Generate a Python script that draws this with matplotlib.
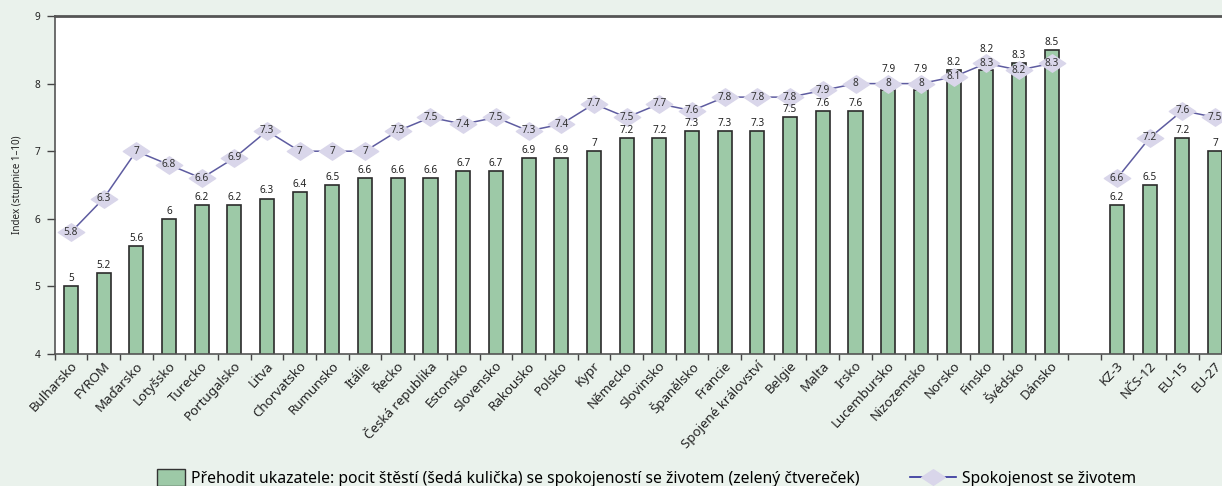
import numpy as np
import matplotlib.pyplot as plt
import matplotlib.transforms as mtransforms
from matplotlib.path import Path
from matplotlib.lines import Line2D
from matplotlib.patches import Patch, Rectangle
from matplotlib.legend_handler import HandlerPatch

plt.rcParams['font.family'] = ['Noto Sans', 'DejaVu Sans']

# Data: countries (sorted by the happiness/satisfaction bar) and country groups
zeme = ["Bulharsko", "FYROM", "Maďarsko", "Lotyšsko", "Turecko", "Portugalsko",
        "Litva", "Chorvatsko", "Rumunsko", "Itálie", "Řecko", "Česká republika",
        "Estonsko", "Slovensko", "Rakousko", "Polsko", "Kypr", "Německo",
        "Slovinsko", "Španělsko", "Francie", "Spojené království", "Belgie",
        "Malta", "Irsko", "Lucembursko", "Nizozemsko", "Norsko", "Finsko",
        "Švédsko", "Dánsko"]
skupiny = ["KZ-3", "NČS-12", "EU-15", "EU-27"]

stesti_zeme = [5, 5.2, 5.6, 6, 6.2, 6.2, 6.3, 6.4, 6.5, 6.6, 6.6, 6.6, 6.7, 6.7,
               6.9, 6.9, 7, 7.2, 7.2, 7.3, 7.3, 7.3, 7.5, 7.6, 7.6, 7.9, 7.9,
               8.2, 8.2, 8.3, 8.5]
stesti_skupiny = [6.2, 6.5, 7.2, 7]

spokojenost_zeme = [5.8, 6.3, 7, 6.8, 6.6, 6.9, 7.3, 7, 7, 7, 7.3, 7.5, 7.4, 7.5,
                    7.3, 7.4, 7.7, 7.5, 7.7, 7.6, 7.8, 7.8, 7.8, 7.9, 8, 8, 8,
                    8.1, 8.3, 8.2, 8.3]
spokojenost_skupiny = [6.6, 7.2, 7.6, 7.5]

# barvy
BG = "#eaf2ec"
ZELENA = "#9dc9a7"
KOSOCTVEREC = "#d9d6ea"
CARA = "#5e5ca0"

# pozice: zeme 0..30, mezera, skupiny 32..35
x_zeme = np.arange(len(zeme))
x_skup = np.arange(len(skupiny)) + len(zeme) + 1
n_slotu = len(zeme) + 1 + len(skupiny)

fig = plt.figure(figsize=(12.22, 4.86), dpi=100)
fig.patch.set_facecolor(BG)
W, H = 1222, 486
ax = fig.add_axes([54.5 / W, 132 / H, 1177 / W, 338 / H])
ax.set_facecolor("white")

# zplostely kosoctverec jako znacka
diamant = Path([(-1, 0), (0, 0.66), (1, 0), (0, -0.66), (-1, 0)],
               [Path.MOVETO, Path.LINETO, Path.LINETO, Path.LINETO, Path.CLOSEPOLY])

radky = [(x_zeme, stesti_zeme, spokojenost_zeme),
         (x_skup, stesti_skupiny, spokojenost_skupiny)]

for xs, sloupce, cara in radky:
    ax.bar(xs, sloupce, width=0.43, bottom=0, color=ZELENA, edgecolor="#2b2b2b",
           linewidth=1.2, zorder=2)
    for x, v, c in zip(xs, sloupce, cara):
        # kdyz kosoctverec lezi tesne nad sloupcem, popisek jde nad nej
        if 0 < c - v <= 0.15:
            ax.annotate(f"{v:g}", (x, c), xytext=(0, 6), textcoords="offset points",
                        ha="center", va="bottom", fontsize=7.2, color="#222", zorder=5)
        else:
            ax.annotate(f"{v:g}", (x, v), xytext=(0, 1.5), textcoords="offset points",
                        ha="center", va="bottom", fontsize=7.2, color="#222", zorder=5)

    ax.plot(xs, cara, color=CARA, lw=1.1, zorder=3,
            marker=diamant, markersize=19, markerfacecolor=KOSOCTVEREC,
            markeredgecolor=KOSOCTVEREC)
    for x, c in zip(xs, cara):
        ax.text(x, c, f"{c:g}", ha="center", va="center", fontsize=7.3,
                color="#333", zorder=6)

ax.set_xlim(-0.5, n_slotu - 0.5)
ax.set_ylim(4, 9)
ax.set_yticks(range(4, 10))
ax.tick_params(axis="y", labelsize=7.3, length=6, width=1, color="#444",
               labelcolor="#222", pad=4)

popisky = zeme + [""] + skupiny
ax.set_xticks(np.arange(n_slotu))
ax.set_xticklabels(popisky, rotation=47, ha="right", va="center",
                   rotation_mode="anchor", fontsize=9.6, color="#222")
ax.tick_params(axis="x", which="major", length=0, pad=7)
# popisky posunout kousek doprava, aby koncily u stredu sloupce
posun = mtransforms.ScaledTranslation(4 / 100, 0, fig.dpi_scale_trans)
for lab in ax.get_xticklabels():
    lab.set_transform(lab.get_transform() + posun)
ax.set_xticks(np.arange(n_slotu + 1) - 0.5, minor=True)
ax.tick_params(axis="x", which="minor", length=4, width=1, color="#444")

ax.set_ylabel("Index (stupnice 1–10)", fontsize=7.1, color="#222", labelpad=8.5)

for s in ["left", "bottom"]:
    ax.spines[s].set_color("#555")
    ax.spines[s].set_linewidth(1.2)
ax.spines["top"].set_color("#555")
ax.spines["top"].set_linewidth(2)
ax.spines["right"].set_visible(False)


# mensi ctverecek v legende, zarovnany k textu
def ctverec(legend, orig_handle, xdescent, ydescent, width, height, fontsize):
    w, h = 0.63 * width, 1.35 * height
    return Rectangle((-xdescent + width - w, -ydescent + (height - h) / 2), w, h)


handles = [
    Patch(facecolor=ZELENA, edgecolor="#333", linewidth=1),
    Line2D([0], [0], color="#2f2f9a", lw=1.2, marker=diamant, markersize=17,
           markerfacecolor=KOSOCTVEREC, markeredgecolor=KOSOCTVEREC),
]
labels = [
    "Přehodit ukazatele: pocit štěstí (šedá kulička) se spokojeností se životem (zelený čtvereček)",
    "Spokojenost se životem",
]
fig.legend(handles, labels, loc="center left", bbox_to_anchor=(132 / W, 7 / H),
           ncol=2, frameon=False, fontsize=11.3, handlelength=2.9,
           handleheight=0.8, columnspacing=3.2, handletextpad=0.38,
           borderaxespad=0.1, handler_map={Patch: HandlerPatch(patch_func=ctverec)})

fig.savefig("out.png", dpi=100, facecolor=BG)
